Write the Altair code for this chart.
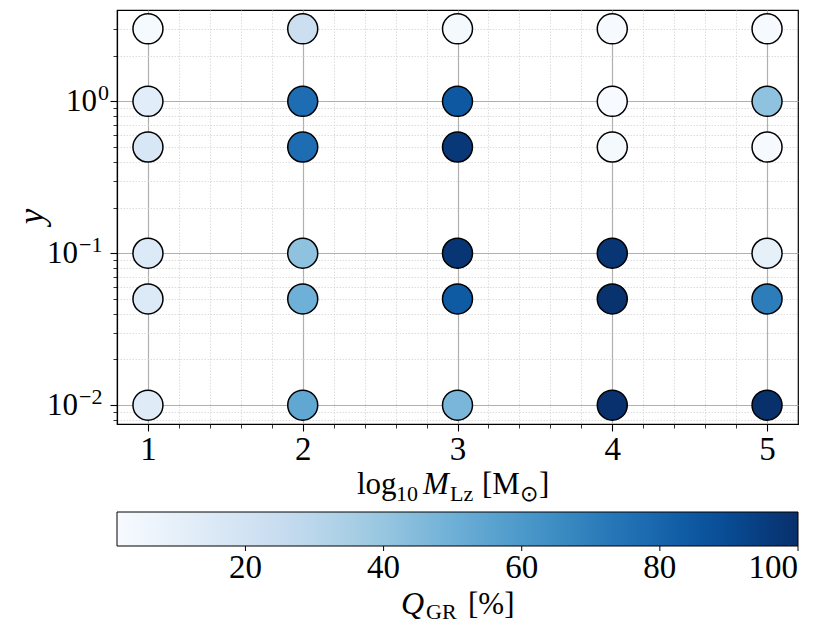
import altair as alt
import pandas as pd
import numpy as np

# ---------------- data ----------------
x_vals = [1, 2, 3, 4, 5]                 # log10 M_Lz
y_vals = [3, 1, 0.5, 0.1, 0.05, 0.01]    # y
q_y3 = [2.5, 23, 3, 2, 2]
q_y1 = [12, 77, 85, 1.4, 42]
q_y05 = [17, 77, 97, 3, 2]
q_y01 = [15, 42, 98, 98, 10]
q_y005 = [15, 50, 84, 99, 71]
q_y001 = [13, 54, 47, 99.5, 100]

x_major = [1, 2, 3, 4, 5]
x_minor = [1.2, 1.4, 1.6, 1.8, 2.2, 2.4, 2.6, 2.8, 3.2, 3.4, 3.6, 3.8,
           4.2, 4.4, 4.6, 4.8]
y_ticks = [0.008, 0.009, 0.01, 0.02, 0.03, 0.04, 0.05, 0.06, 0.07, 0.08, 0.09,
           0.1, 0.2, 0.3, 0.4, 0.5, 0.6, 0.7, 0.8, 0.9, 1, 2, 3]
y_label_pos = [1]                 # labels 10^0
y_label_pos_exp = ["0"]
y_label_neg = [0.1, 0.01]         # labels 10^-1, 10^-2
y_label_neg_exp = ["−1", "−2"]
cbar_ticks = [20, 40, 60, 80, 100]
blues = ["#f7fbff", "#deebf7", "#c6dbef", "#9ecae1", "#6baed6",
         "#4292c6", "#2171b5", "#08519c", "#08306b"]

rows = [q_y3, q_y1, q_y05, q_y01, q_y005, q_y001]
records = [{"x": xv, "y": yv, "q": qv}
           for yv, row in zip(y_vals, rows) for xv, qv in zip(x_vals, row)]
df = pd.DataFrame(records)

qmin, qmax = float(df["q"].min()), 100.0
stops = [float(s) for s in np.linspace(qmin, qmax, len(blues))]

# ---------------- layout ----------------
W, H = 681, 414
OX, OY = 117, 10      # page position of plot origin
SERIF = "Liberation Serif"
TICK_FS = 33

x_ticks = sorted(x_major + x_minor)
x_major_test = "abs(datum.value - round(datum.value)) < 1e-6"
y_major_test = "abs(log(datum.value)/LN10 - round(log(datum.value)/LN10)) < 1e-6"


def cond(test, a, b):
    return {"condition": {"test": test, "value": a}, "value": b}


x_axis = alt.Axis(
    values=x_ticks, title=None, orient="bottom",
    labelExpr=f"{x_major_test} ? format(datum.value, 'd') : ''",
    labelFont=SERIF, labelFontSize=TICK_FS, labelColor="black", labelPadding=2,
    labelOverlap=False, labelFlush=False,
    domain=True, domainColor="black", domainWidth=1.2,
    ticks=True, tickColor="black",
    tickSize=cond(x_major_test, 7, 4),
    tickWidth=cond(x_major_test, 1.1, 0.8),
    grid=True,
    gridColor=cond(x_major_test, "#b0b0b0", "#d4d4d4"),
    gridDash=cond(x_major_test, [], [1.5, 1.5]),
    gridWidth=cond(x_major_test, 1.2, 0.8),
)

y_axis = alt.Axis(
    values=y_ticks, title="y", orient="left", labels=False,
    domain=True, domainColor="black", domainWidth=1.2,
    ticks=True, tickColor="black",
    tickSize=cond(y_major_test, 7, 4),
    tickWidth=cond(y_major_test, 1.1, 0.8),
    grid=True,
    gridColor=cond(y_major_test, "#b0b0b0", "#d4d4d4"),
    gridDash=cond(y_major_test, [], [1.5, 1.5]),
    gridWidth=cond(y_major_test, 1.2, 0.8),
    titleFont=SERIF, titleFontSize=35, titleFontStyle="italic",
    titleFontWeight="normal", titleColor="black",
    titleX=31 - OX, titleY=216 - OY, titleAngle=270,
    titleAlign="center", titleBaseline="middle",
)

xs = alt.Scale(domain=[0.8, 5.2], nice=False, zero=False)
ys = alt.Scale(type="log", domain=[10 ** -2.124, 10 ** 0.601], nice=False)

points = alt.Chart(df).mark_circle(
    size=900, opacity=1, stroke="black", strokeWidth=1.5
).encode(
    x=alt.X("x:Q", scale=xs, axis=x_axis),
    y=alt.Y("y:Q", scale=ys, axis=y_axis),
    color=alt.Color(
        "q:Q",
        scale=alt.Scale(domain=stops, range=blues, interpolate="rgb"),
        legend=alt.Legend(
            orient="none", legendX=0, legendY=512 - OY,
            direction="horizontal", title=None, padding=0,
            gradientLength=W, gradientThickness=34,
            gradientStrokeColor="black", gradientStrokeWidth=1,
            values=cbar_ticks, labelFont=SERIF, labelFontSize=TICK_FS,
            labelColor="black", labelOffset=6, labelAlign="center",
            labelOverlap=False,
        ),
    ),
)

# small tick marks under the colour bar, on their own q scale
cbar_tick_layer = alt.Chart(pd.DataFrame({"q": cbar_ticks})).mark_rule(
    color="black", strokeWidth=1
).encode(
    x=alt.X("q:Q", scale=alt.Scale(domain=[qmin, qmax], nice=False, zero=False),
            axis=None),
    y=alt.value(546 - OY), y2=alt.value(551 - OY),
)


# y tick labels "10" with superscript exponents, placed through the y scale
def ylabels(vals, exps, right_px):
    d = pd.DataFrame({"y": vals, "e": exps})
    base = alt.Chart(d).mark_text(
        text="10", align="right", baseline="middle", font=SERIF,
        fontSize=TICK_FS - 2, color="black", dy=1
    ).encode(x=alt.value(right_px - OX), y=alt.Y("y:Q", scale=ys))
    sup = alt.Chart(d).mark_text(
        align="left", baseline="middle", font=SERIF, fontSize=22,
        color="black", dy=-8
    ).encode(x=alt.value(right_px - OX + 1),
             y=alt.Y("y:Q", scale=ys), text="e:N")
    return [base, sup]


def piece(text, px, py, size, italic=False, font=SERIF):
    kw = dict(text=text, align="left", baseline="alphabetic",
              fontSize=size, font=font, color="black")
    if italic:
        kw["fontStyle"] = "italic"
    return alt.Chart(alt.Data(values=[{}])).mark_text(**kw).encode(
        x=alt.value(px - OX), y=alt.value(py - OY))


BX = 494   # x-title baseline (page)
BS = 501   # x-title subscript baseline
LB = 614   # legend-title baseline
LS = 619
texts = [
    piece("log", 357, BX, 31),
    piece("10", 396, BS, 22),
    piece("M", 423, BX, 31, italic=True),
    piece("Lz", 450, BS, 22),
    piece("[M", 482, BX, 31),
    piece("⊙", 520, BS, 22, font="DejaVu Sans"),
    piece("]", 539, BX, 31),
    piece("Q", 401, LB, 32, italic=True),
    piece("GR", 426, LS, 22),
    piece("[%]", 468, LB, 31),
]

layers = ([points] + ylabels(y_label_pos, y_label_pos_exp, 97)
          + ylabels(y_label_neg, y_label_neg_exp, 78) + texts)

main = alt.layer(*layers)

chart = alt.layer(main, cbar_tick_layer).resolve_scale(
    x="independent"
).properties(
    width=W, height=H,
    autosize=alt.AutoSizeParams(type="none"),
    padding={"left": OX - 8, "top": OY - 8, "right": 24, "bottom": 203},
).configure_view(
    stroke="black", strokeWidth=1.2
).configure_axis(
    labelFont=SERIF
).configure_legend(
    labelFont=SERIF
)

chart.save("out.html", embed_options={"renderer": "svg", "actions": False})
